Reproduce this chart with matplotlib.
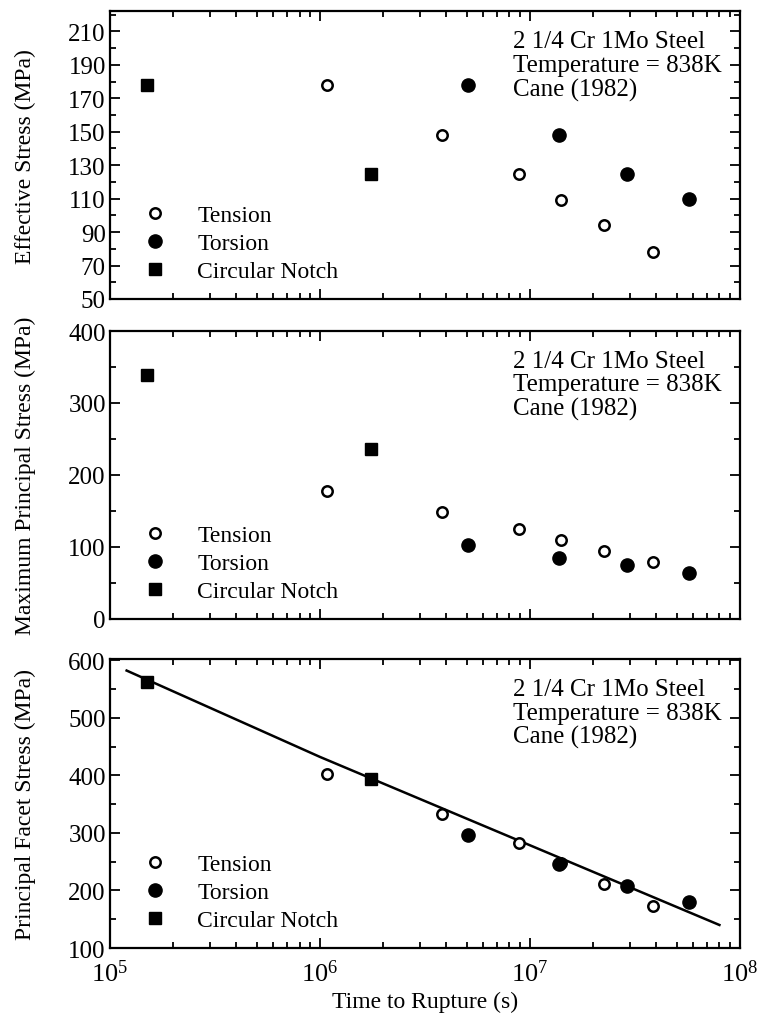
import matplotlib
matplotlib.use("Agg")
import matplotlib.pyplot as plt
from matplotlib.ticker import FixedLocator, LogLocator, NullFormatter, FixedFormatter

plt.rcParams['font.family'] = ['Liberation Serif', 'DejaVu Serif']
plt.rcParams['mathtext.fontset'] = 'custom'
plt.rcParams['mathtext.rm'] = 'Liberation Serif'
plt.rcParams['mathtext.it'] = 'Liberation Serif:italic'

# ---------------- data ----------------
# Panel 1: Effective stress (MPa)
eff_tension_t = [1.08e6, 3.8e6, 8.9e6, 1.41e7, 2.25e7, 3.85e7]
eff_tension_s = [178, 148, 125, 109, 94, 78]
eff_torsion_t = [5.1e6, 1.37e7, 2.9e7, 5.7e7]
eff_torsion_s = [178, 148, 125, 110]
eff_notch_t = [1.5e5, 1.75e6]
eff_notch_s = [178, 125]

# Panel 2: Maximum principal stress (MPa)
mps_tension_t = [1.08e6, 3.8e6, 8.9e6, 1.41e7, 2.25e7, 3.85e7]
mps_tension_s = [178, 149, 125, 109, 95, 79]
mps_torsion_t = [5.1e6, 1.37e7, 2.9e7, 5.7e7]
mps_torsion_s = [103, 85, 75, 64]
mps_notch_t = [1.5e5, 1.75e6]
mps_notch_s = [339, 236]

# Panel 3: Principal facet stress (MPa)
pfs_tension_t = [1.08e6, 3.8e6, 8.9e6, 1.41e7, 2.25e7, 3.85e7]
pfs_tension_s = [403, 332, 282, 247, 212, 173]
pfs_torsion_t = [5.1e6, 1.37e7, 2.9e7, 5.7e7]
pfs_torsion_s = [296, 246, 208, 180]
pfs_notch_t = [1.5e5, 1.75e6]
pfs_notch_s = [562, 394]
fit_t = [1.2e5, 1.0e6, 8.0e7]
fit_s = [582, 432, 140]

legend_labels = ["Tension", "Torsion", "Circular Notch"]
note_lines = ["2 1/4 Cr 1Mo Steel", "Temperature = 838K", "Cane (1982)"]
ylabels = ["Effective Stress (MPa)", "Maximum Principal Stress (MPa)",
           "Principal Facet Stress (MPa)"]
xlabel = "Time to Rupture (s)"
x_ticks = [1e5, 1e6, 1e7, 1e8]
x_ticklabels = ["$10^{5}$", "$10^{6}$", "$10^{7}$", "$10^{8}$"]

panels = [
    dict(tt=eff_tension_t, ts=eff_tension_s, ot=eff_torsion_t, os=eff_torsion_s,
         nt=eff_notch_t, ns=eff_notch_s, ylim=(50, 222),
         major=list(range(50, 211, 20)), minor=list(range(60, 221, 20))),
    dict(tt=mps_tension_t, ts=mps_tension_s, ot=mps_torsion_t, os=mps_torsion_s,
         nt=mps_notch_t, ns=mps_notch_s, ylim=(0, 400),
         major=list(range(0, 401, 100)), minor=list(range(50, 400, 100))),
    dict(tt=pfs_tension_t, ts=pfs_tension_s, ot=pfs_torsion_t, os=pfs_torsion_s,
         nt=pfs_notch_t, ns=pfs_notch_s, ylim=(100, 602),
         major=list(range(100, 601, 100)), minor=list(range(150, 600, 100))),
]

fig = plt.figure(figsize=(7.65, 10.2), dpi=100)
rects = [
    [0.1438, 0.7059, 0.8232, 0.2820],
    [0.1438, 0.3922, 0.8232, 0.2823],
    [0.1438, 0.0696, 0.8232, 0.2833],
]

FS = 17
for i, (p, r) in enumerate(zip(panels, rects)):
    ax = fig.add_axes(r)
    ax.set_xscale('log')
    ax.set_xlim(1e5, 1e8)
    ax.set_ylim(*p['ylim'])
    h1, = ax.plot(p['tt'], p['ts'], 'o', mfc='white', mec='black', mew=1.8,
                  ms=7.5, linestyle='none', label=legend_labels[0])
    h2, = ax.plot(p['ot'], p['os'], 'o', mfc='black', mec='black', ms=9.5,
                  linestyle='none', label=legend_labels[1])
    h3, = ax.plot(p['nt'], p['ns'], 's', mfc='black', mec='black', ms=8.5,
                  linestyle='none', label=legend_labels[2])
    if i == 2:
        ax.plot(fit_t, fit_s, '-', color='black', lw=1.8, zorder=1)

    ax.yaxis.set_major_locator(FixedLocator(p['major']))
    ax.yaxis.set_minor_locator(FixedLocator(p['minor']))
    ax.xaxis.set_major_locator(FixedLocator(x_ticks))
    ax.xaxis.set_minor_locator(LogLocator(base=10, subs=range(2, 10), numticks=20))
    ax.xaxis.set_minor_formatter(NullFormatter())
    if i == 2:
        ax.xaxis.set_major_formatter(FixedFormatter(x_ticklabels))
        ax.set_xlabel(xlabel, fontsize=FS)
        ax.xaxis.set_label_coords(0.5, -0.147)
    else:
        ax.xaxis.set_major_formatter(NullFormatter())

    ax.tick_params(which='both', direction='in', top=True, right=True,
                   labelsize=18, width=1.3, color='black')
    ax.tick_params(which='major', length=7, pad=3)
    ax.tick_params(which='minor', length=4)
    ax.tick_params(axis='x', which='major', pad=8, labelsize=19)
    for s in ax.spines.values():
        s.set_linewidth(1.6)

    ax.set_ylabel(ylabels[i], fontsize=FS)
    ax.yaxis.set_label_coords(-0.118, 0.5)

    ax.text(0.64, 0.935, "\n".join(note_lines), transform=ax.transAxes,
            fontsize=18, va='top', ha='left', linespacing=1.1)

    ax.legend(handles=[h1, h2, h3], loc='lower left',
              bbox_to_anchor=(0.0225, 0.001), frameon=False, fontsize=FS,
              handletextpad=1.2, labelspacing=0.27, borderpad=0.2,
              handlelength=1.2)

fig.savefig("out.png", dpi=100)
